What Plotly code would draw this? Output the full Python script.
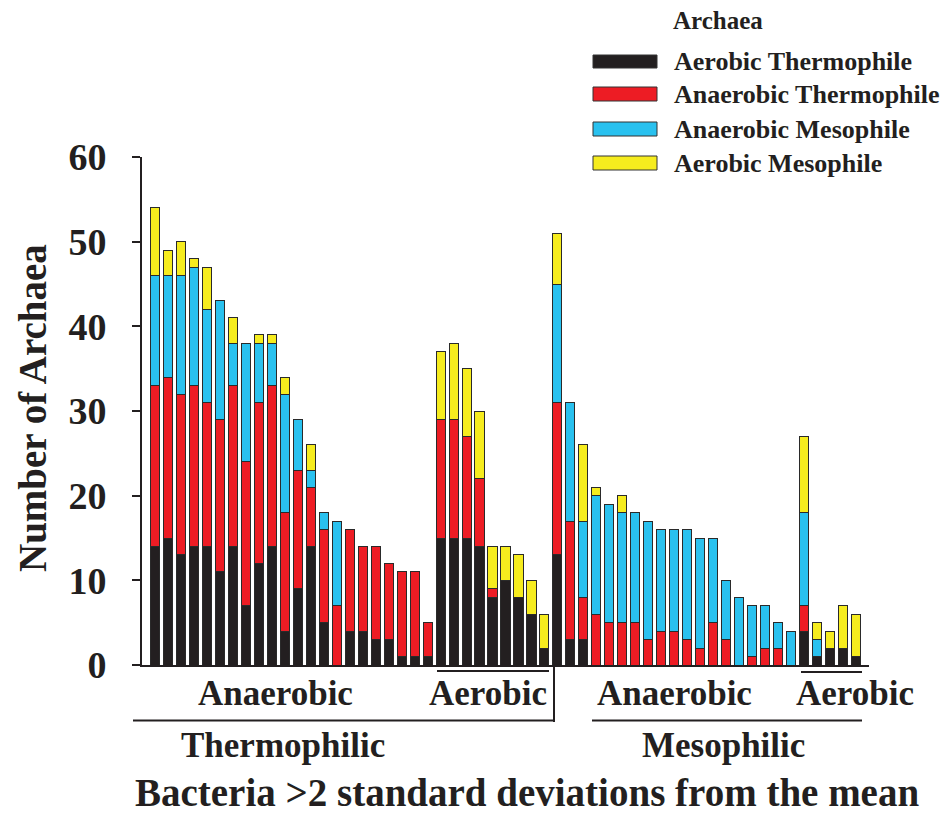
import plotly.graph_objects as go

# ---------------- data ----------------
series_names = ["Aerobic Thermophile", "Anaerobic Thermophile",
                "Anaerobic Mesophile", "Aerobic Mesophile"]

# 22 thermophilic-anaerobic, 9 thermophilic-aerobic,
# 19 mesophilic-anaerobic, 5 mesophilic-aerobic bacteria
aerobic_thermophile = [14, 15, 13, 14, 14, 11, 14, 7, 12, 14, 4, 9, 14, 5, 0, 4, 4, 3, 3, 1, 1, 1,
                       15, 15, 15, 14, 8, 10, 8, 6, 2,
                       13, 3, 3, 0, 0, 0, 0, 0, 0, 0, 0, 0, 0, 0, 0, 0, 0, 0, 0,
                       4, 1, 2, 2, 1]
anaerobic_thermophile = [19, 19, 19, 19, 17, 18, 19, 17, 19, 19, 14, 14, 7, 11, 7, 12, 10, 11, 9, 10, 10, 4,
                         14, 14, 12, 8, 1, 0, 0, 0, 0,
                         18, 14, 5, 6, 5, 5, 5, 3, 4, 4, 3, 2, 5, 3, 0, 1, 2, 2, 0,
                         3, 0, 0, 0, 0]
anaerobic_mesophile = [13, 12, 14, 14, 11, 14, 5, 14, 7, 5, 14, 6, 2, 2, 10, 0, 0, 0, 0, 0, 0, 0,
                       0, 0, 0, 0, 0, 0, 0, 0, 0,
                       14, 14, 9, 14, 14, 13, 13, 14, 12, 12, 13, 13, 10, 7, 8, 6, 5, 3, 4,
                       11, 2, 0, 0, 0]
aerobic_mesophile = [8, 3, 4, 1, 5, 0, 3, 0, 1, 1, 2, 0, 3, 0, 0, 0, 0, 0, 0, 0, 0, 0,
                     8, 9, 8, 8, 5, 4, 5, 4, 4,
                     6, 0, 9, 1, 0, 2, 0, 0, 0, 0, 0, 0, 0, 0, 0, 0, 0, 0, 0,
                     9, 2, 2, 5, 5]

group_sizes = [22, 9, 19, 5]
group_labels = ["Anaerobic", "Aerobic", "Anaerobic", "Aerobic"]
super_labels = ["Thermophilic", "Mesophilic"]
y_ticks = [0, 10, 20, 30, 40, 50, 60]

# ---------------- styles ----------------
colors = ["#231f20", "#ed1c24", "#29c1ef", "#f6ec1e"]
FONT = "Liberation Serif, Times New Roman, serif"
INK = "#231f20"

W, H = 950, 816
L, R, T, B = 142, 81, 157, 151
PW, PH = W - L - R, H - T - B


def px(x):
    return (x - L) / PW


def py(y):
    return (H - B - y) / PH


n = len(aerobic_thermophile)
xs = list(range(n))
values = [aerobic_thermophile, anaerobic_thermophile, anaerobic_mesophile, aerobic_mesophile]

fig = go.Figure()
for name, vals, col in zip(series_names, values, colors):
    fig.add_trace(go.Bar(
        x=xs, y=vals, name=name,
        marker=dict(color=col, line=dict(color="#2a2a2a", width=1)),
        showlegend=False,
    ))

shapes = []
annotations = []

# group lines (layout decoration)
line = dict(color=INK, width=2)
shapes.append(dict(type="line", xref="paper", yref="paper",
                   x0=px(437), x1=px(549), y0=py(671), y1=py(671), line=line))
shapes.append(dict(type="line", xref="paper", yref="paper",
                   x0=px(801), x1=px(862), y0=py(672), y1=py(672), line=line))
shapes.append(dict(type="line", xref="paper", yref="paper",
                   x0=px(554), x1=px(554), y0=py(665), y1=py(722), line=line))
shapes.append(dict(type="line", xref="paper", yref="paper",
                   x0=px(133), x1=px(554), y0=py(720.5), y1=py(720.5), line=line))
shapes.append(dict(type="line", xref="paper", yref="paper",
                   x0=px(592), x1=px(862), y0=py(720.5), y1=py(720.5), line=line))

grp_font = dict(family=FONT, size=35, color=INK, weight="bold")
for lab, cx in zip(group_labels, [275, 488, 674, 855]):
    annotations.append(dict(text=lab, x=px(cx), y=py(693), xref="paper", yref="paper",
                            xanchor="center", yanchor="middle", showarrow=False, font=grp_font))
for lab, cx in zip(super_labels, [283, 723]):
    annotations.append(dict(text=lab, x=px(cx), y=py(745), xref="paper", yref="paper",
                            xanchor="center", yanchor="middle", showarrow=False, font=grp_font))

annotations.append(dict(text="Bacteria >2 standard deviations from the mean",
                        x=px(527), y=py(792), xref="paper", yref="paper",
                        xanchor="center", yanchor="middle", showarrow=False,
                        font=dict(family=FONT, size=39, color=INK, weight="bold")))
annotations.append(dict(text="Number of Archaea", textangle=-90,
                        x=px(32), y=py(408), xref="paper", yref="paper",
                        xanchor="center", yanchor="middle", showarrow=False,
                        font=dict(family=FONT, size=39, color=INK, weight="bold")))

# manual legend
leg_font = dict(family=FONT, size=26, color=INK, weight="bold")
annotations.append(dict(text="Archaea", x=px(671), y=py(20), xref="paper", yref="paper",
                        xanchor="left", yanchor="middle", showarrow=False,
                        font=dict(family=FONT, size=25, color=INK, weight="bold")))
for name, col, (y0, y1) in zip(series_names, colors,
                               [(55, 68), (87, 101), (122, 136), (156, 170)]):
    shapes.append(dict(type="rect", xref="paper", yref="paper",
                       x0=px(593), x1=px(657), y0=py(y1), y1=py(y0),
                       fillcolor=col, line=dict(color="#333333", width=1)))
    annotations.append(dict(text=name, x=px(672), y=py((y0 + y1) / 2), xref="paper", yref="paper",
                            xanchor="left", yanchor="middle", showarrow=False, font=leg_font))

fig.update_layout(
    width=W, height=H,
    margin=dict(l=L, r=R, t=T, b=B, pad=0),
    barmode="stack", bargap=0.3,
    paper_bgcolor="white", plot_bgcolor="white",
    shapes=shapes, annotations=annotations,
    showlegend=False,
    xaxis=dict(range=[-1.0, 55.0], showticklabels=False, ticks="", showgrid=False,
               zeroline=False, showline=True, linecolor=INK, linewidth=2),
    yaxis=dict(range=[0, 60], tickvals=y_ticks, ticks="outside", ticklen=8, tickwidth=2,
               tickcolor=INK, showgrid=False, zeroline=False, showline=True,
               linecolor=INK, linewidth=2, ticklabelstandoff=18,
               tickfont=dict(family=FONT, size=38, color=INK, weight="bold")),
)

fig.write_html("out.html")
